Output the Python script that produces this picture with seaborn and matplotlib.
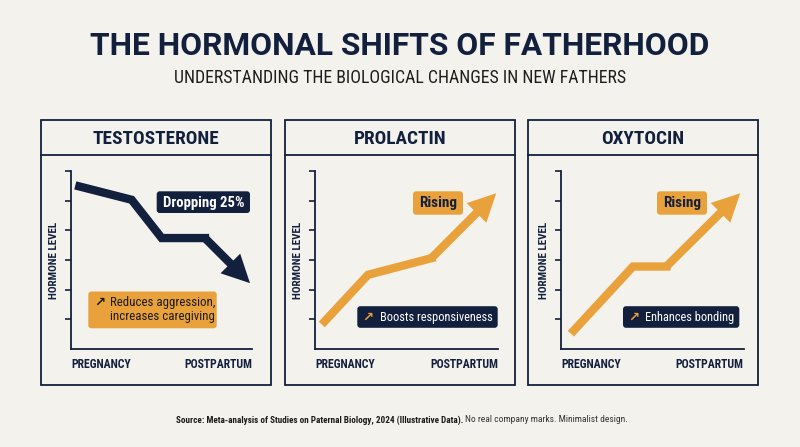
import matplotlib.pyplot as plt
import seaborn as sns
from matplotlib.patches import Rectangle, FancyBboxPatch

NAVY = '#13203d'
ORANGE = '#e9a23b'
BG = '#f3f2ed'

# data (hormone level in arbitrary units 0-6, time 0-10)
hormones = ['TESTOSTERONE', 'PROLACTIN', 'OXYTOCIN']
stage_labels = ['PREGNANCY', 'POSTPARTUM']
testo_x = [0.46, 3.35, 5.01, 7.4, 9.89]
testo_y = [5.48, 5.03, 3.74, 3.74, 2.22]
prol_x = [0.51, 2.88, 6.35, 9.9]
prol_y = [0.93, 2.5, 3.06, 5.25]
oxy_x = [0.68, 3.93, 5.76, 9.81]
oxy_y = [0.62, 2.78, 2.78, 5.25]
trend_labels = ['Dropping 25%', 'Rising', 'Rising']
effect_labels = ['Reduces aggression,\nincreases caregiving', 'Boosts responsiveness', 'Enhances bonding']

sns.set_theme(style='white')
plt.rcParams['font.family'] = ['Roboto Condensed', 'Roboto', 'DejaVu Sans']

fig = plt.figure(figsize=(8, 4.47), dpi=100, facecolor=BG)
# background axes in pixel coordinates for the decoration
bg = fig.add_axes([0, 0, 1, 1], zorder=0)
bg.set_xlim(0, 800)
bg.set_ylim(447, 0)
bg.axis('off')

bg.text(400, 46, 'THE HORMONAL SHIFTS OF FATHERHOOD', ha='center', va='center',
        fontsize=22.9, fontweight='bold', color=NAVY, family=['Roboto', 'DejaVu Sans'])
bg.text(400, 78, 'UNDERSTANDING THE BIOLOGICAL CHANGES IN NEW FATHERS', ha='center', va='center',
        fontsize=12.8, color='#1d1d1d')

panel_x = [41, 285, 528]
panel_w = 230
axes_x = [71, 315.3, 561.3]
axes_w = [181, 182.7, 182.4]
series = [(testo_x, testo_y, NAVY), (prol_x, prol_y, ORANGE), (oxy_x, oxy_y, ORANGE)]

for i in range(3):
    x0 = panel_x[i]
    bg.add_patch(Rectangle((x0, 120), panel_w, 265, fill=False, ec=NAVY, lw=1.3))
    bg.plot([x0, x0 + panel_w], [155, 155], color=NAVY, lw=1.3)
    bg.text(x0 + panel_w / 2, 139.5, hormones[i], ha='center', va='center',
            fontsize=13.9, fontweight='bold', color=NAVY)

    ax = fig.add_axes([axes_x[i] / 800, 98 / 447, axes_w[i] / 800, 178 / 447], zorder=1)
    ax.set_facecolor('none')
    xs, ys, col = series[i]
    # line up to the last bend, then the arrow for the final stretch
    sns.lineplot(x=xs[:-1], y=ys[:-1], ax=ax, color=col, lw=6, sort=False,
                 solid_joinstyle='miter', solid_capstyle='projecting')
    ax.annotate('', xy=(xs[-1], ys[-1]), xytext=(xs[-2], ys[-2]),
                arrowprops=dict(arrowstyle='simple,head_length=1.0,head_width=1.0,tail_width=0.3',
                                mutation_scale=20, fc=col, ec='none', shrinkA=0, shrinkB=0))
    ax.set_xlim(0, 10)
    ax.set_ylim(0, 6)
    for s in ['top', 'right']:
        ax.spines[s].set_visible(False)
    for s in ['left', 'bottom']:
        ax.spines[s].set_color(NAVY)
        ax.spines[s].set_linewidth(1.3)
    ax.set_yticks(range(1, 7))
    ax.set_yticklabels([])
    ax.tick_params(axis='y', direction='out', length=4, width=1.2, color=NAVY, left=True)
    ax.set_xticks([0, 10])
    ax.set_xticklabels(stage_labels, fontweight='bold', fontsize=8.5, color=NAVY)
    ax.tick_params(axis='x', length=0, pad=6.5)
    tl = ax.get_xticklabels()
    tl[0].set_ha('left')
    tl[1].set_ha('right')
    ax.set_ylabel('HORMONE LEVEL', fontsize=8, fontweight='bold', color=NAVY)
    ax.yaxis.set_label_coords(-0.066, 0.5)

# label boxes
def box(x, y, w, h, color):
    bg.add_patch(FancyBboxPatch((x, y), w, h, boxstyle='round,pad=0,rounding_size=3',
                                fc=color, ec='none', zorder=3))

box(156.7, 191.3, 93.3, 21.7, NAVY)
bg.text(203.3, 202.5, trend_labels[0], ha='center', va='center', fontsize=10.6,
        fontweight='bold', color='white', zorder=4)
box(88.3, 291.5, 128.4, 36.8, ORANGE)
bg.text(94.5, 302, '\u2197', ha='left', va='center', fontsize=9.5, fontweight='bold',
        color='#1a1a1a', family=['DejaVu Sans'], zorder=4)
bg.text(110.5, 309.5, effect_labels[0], ha='left', va='center', fontsize=9.3,
        color='#1a1a1a', linespacing=1.1, zorder=4)

for i, (bx, ex, ew, ax_arrow, tx) in enumerate([(413, 357.3, 140.4, 362.5, 380),
                                                 (657, 623, 116.3, 628.5, 645.3)], start=1):
    box(bx, 191.3, 50, 23.4, ORANGE)
    bg.text(bx + 25, 203, trend_labels[i], ha='center', va='center', fontsize=11,
            fontweight='bold', color=NAVY, zorder=4)
    box(ex, 306.2, ew, 21.6, NAVY)
    bg.text(ax_arrow, 317, '\u2197', ha='left', va='center', fontsize=9.5, fontweight='bold',
            color=ORANGE, family=['DejaVu Sans'], zorder=4)
    bg.text(tx, 317.3, effect_labels[i], ha='left', va='center', fontsize=8.9,
            color='white', zorder=4)

bg.text(463, 420, 'Source: Meta-analysis of Studies on Paternal Biology, 2024 (Illustrative Data).',
        ha='right', va='center', fontsize=6.6, fontweight='bold', color='#1a1a1a')
bg.text(465, 420, 'No real company marks. Minimalist design.',
        ha='left', va='center', fontsize=6.8, color='#333333')

fig.savefig('out.png', dpi=100, facecolor=BG)
